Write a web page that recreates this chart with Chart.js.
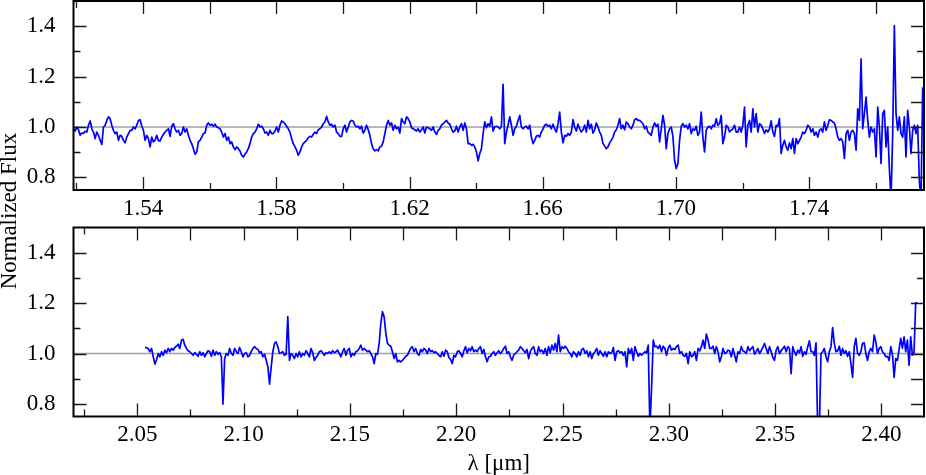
<!DOCTYPE html>
<html>
<head>
<meta charset="utf-8">
<script src="https://cdn.jsdelivr.net/npm/chart.js@4.4.1/dist/chart.umd.min.js"></script>
<style>
html,body{margin:0;padding:0;background:#fff;}
#wrap{position:relative;width:926px;height:475px;overflow:hidden;background:#fff;}
#wrap canvas{position:absolute;left:0;top:0;}
</style>
</head>
<body>
<div id="wrap">
<canvas id="cBottom" width="926" height="475"></canvas>
<canvas id="cTop" width="926" height="475"></canvas>
</div>
<script>
// ---------------- data ----------------
const topRange = [1.5191, 1.7745];
const bottomRange = [2.020, 2.420];
const yRange = [0.75, 1.5];
const continuumLevel = [1.0, 1.0];

const topTickLabels = [1.54, 1.58, 1.62, 1.66, 1.70, 1.74];
const topMinorTicks = [1.52, 1.56, 1.60, 1.64, 1.68, 1.72, 1.76];
const topMirrorTicks = [1.52, 1.54, 1.56, 1.58, 1.60, 1.62, 1.64, 1.66, 1.68, 1.70, 1.72, 1.74, 1.76];
const bottomTickLabels = [2.05, 2.10, 2.15, 2.20, 2.25, 2.30, 2.35, 2.40];
const bottomMinorTicks = [2.025, 2.075, 2.125, 2.175, 2.225, 2.275, 2.325, 2.375];
const bottomMirrorTicks = [2.025, 2.05, 2.075, 2.10, 2.125, 2.15, 2.175, 2.20, 2.225, 2.25, 2.275, 2.30, 2.325, 2.35, 2.375, 2.40];
const yTickLabels = [0.8, 1.0, 1.2, 1.4];
const yMinorTicks = [0.9, 1.1, 1.3];
const yMirrorTicks = [0.8, 0.9, 1.0, 1.1, 1.2, 1.3, 1.4];

const topWave = [
1.5191,1.5196,1.5201,1.5206,1.5211,1.5216,1.5221,1.5226,1.5231,1.5236,1.5241,1.5246,1.5251,1.5256,1.5261,1.5266,1.5271,1.5276,1.5281,1.5286,
1.5291,1.5296,1.5301,1.5306,1.5311,1.5316,1.5321,1.5326,1.5331,1.5336,1.5341,1.5346,1.5351,1.5356,1.5361,1.5366,1.5371,1.5376,1.5381,1.5386,
1.5391,1.5396,1.5401,1.5406,1.5411,1.5416,1.5421,1.5426,1.5431,1.5436,1.5441,1.5446,1.5451,1.5456,1.5461,1.5466,1.5471,1.5476,1.5481,1.5486,
1.5491,1.5496,1.5501,1.5506,1.5511,1.5516,1.5521,1.5526,1.5531,1.5536,1.5541,1.5546,1.5551,1.5556,1.5561,1.5566,1.5571,1.5576,1.5581,1.5586,
1.5591,1.5596,1.5601,1.5606,1.5611,1.5616,1.5621,1.5626,1.5631,1.5636,1.5641,1.5646,1.5651,1.5656,1.5661,1.5666,1.5671,1.5676,1.5681,1.5686,
1.5691,1.5696,1.5701,1.5706,1.5711,1.5716,1.5721,1.5726,1.5731,1.5736,1.5741,1.5746,1.5751,1.5756,1.5761,1.5766,1.5771,1.5776,1.5781,1.5786,
1.5791,1.5796,1.5801,1.5806,1.5811,1.5816,1.5821,1.5826,1.5831,1.5836,1.5841,1.5846,1.5851,1.5856,1.5861,1.5866,1.5871,1.5876,1.5881,1.5886,
1.5891,1.5896,1.5901,1.5906,1.5911,1.5916,1.5921,1.5926,1.5931,1.5936,1.5941,1.5946,1.5951,1.5956,1.5961,1.5966,1.5971,1.5976,1.5981,1.5986,
1.5991,1.5996,1.6001,1.6006,1.6011,1.6016,1.6021,1.6026,1.6031,1.6036,1.6041,1.6046,1.6051,1.6056,1.6061,1.6066,1.6071,1.6076,1.6081,1.6086,
1.6091,1.6096,1.6101,1.6106,1.6111,1.6116,1.6121,1.6126,1.6131,1.6136,1.6141,1.6146,1.6151,1.6156,1.6161,1.6166,1.6171,1.6176,1.6181,1.6186,
1.6191,1.6196,1.6201,1.6206,1.6211,1.6216,1.6221,1.6226,1.6231,1.6236,1.6241,1.6246,1.6251,1.6256,1.6261,1.6266,1.6271,1.6276,1.6281,1.6286,
1.6291,1.6296,1.6301,1.6306,1.6311,1.6316,1.6321,1.6326,1.6331,1.6336,1.6341,1.6346,1.6351,1.6356,1.6361,1.6366,1.6371,1.6376,1.6381,1.6386,
1.6391,1.6396,1.6401,1.6406,1.6411,1.6416,1.6421,1.6426,1.6431,1.6436,1.6441,1.6446,1.6451,1.6456,1.6461,1.6466,1.6471,1.6476,1.6481,1.6486,
1.6491,1.6496,1.6501,1.6506,1.6511,1.6516,1.6521,1.6526,1.6531,1.6536,1.6541,1.6546,1.6551,1.6556,1.6561,1.6566,1.6571,1.6576,1.6581,1.6586,
1.6591,1.6596,1.6601,1.6606,1.6611,1.6616,1.6621,1.6626,1.6631,1.6636,1.6641,1.6646,1.6651,1.6656,1.6661,1.6666,1.6671,1.6676,1.6681,1.6686,
1.6691,1.6696,1.6701,1.6706,1.6711,1.6716,1.6721,1.6726,1.6731,1.6736,1.6741,1.6746,1.6751,1.6756,1.6761,1.6766,1.6771,1.6776,1.6781,1.6786,
1.6791,1.6796,1.6801,1.6806,1.6811,1.6816,1.6821,1.6826,1.6831,1.6836,1.6841,1.6846,1.6851,1.6856,1.6861,1.6866,1.6871,1.6876,1.6881,1.6886,
1.6891,1.6896,1.6901,1.6906,1.6911,1.6916,1.6921,1.6926,1.6931,1.6936,1.6941,1.6946,1.6951,1.6956,1.6961,1.6966,1.6971,1.6976,1.6981,1.6986,
1.6991,1.6996,1.7001,1.7006,1.7011,1.7016,1.7021,1.7026,1.7031,1.7036,1.7041,1.7046,1.7051,1.7056,1.7061,1.7066,1.7071,1.7076,1.7081,1.7086,
1.7091,1.7096,1.7101,1.7106,1.7111,1.7116,1.7121,1.7126,1.7131,1.7136,1.7141,1.7146,1.7151,1.7156,1.7161,1.7166,1.7171,1.7176,1.7181,1.7186,
1.7191,1.7196,1.7201,1.7206,1.7211,1.7216,1.7221,1.7226,1.7231,1.7236,1.7241,1.7246,1.7251,1.7256,1.7261,1.7266,1.7271,1.7276,1.7281,1.7286,
1.7291,1.7296,1.7301,1.7306,1.7311,1.7316,1.7321,1.7326,1.7331,1.7336,1.7341,1.7346,1.7351,1.7356,1.7361,1.7366,1.7371,1.7376,1.7381,1.7386,
1.7391,1.7396,1.7401,1.7406,1.7411,1.7416,1.7421,1.7426,1.7431,1.7436,1.7441,1.7446,1.7451,1.7456,1.7461,1.7466,1.7471,1.7476,1.7481,1.7486,
1.7491,1.7496,1.7501,1.7506,1.7511,1.7516,1.7521,1.7526,1.7531,1.7536,1.7541,1.7546,1.7551,1.7556,1.7561,1.7566,1.7571,1.7576,1.7581,1.7586,
1.7591,1.7596,1.7601,1.7606,1.7611,1.7616,1.7621,1.7626,1.7631,1.7636,1.7641,1.7646,1.7651,1.7656,1.7661,1.7666,1.7671,1.7676,1.7681,1.7686,
1.7691,1.7696,1.7701,1.7706,1.7711,1.7716,1.7721,1.7726,1.7731,1.7736,1.7741
];

const topFlux = [
0.993,0.984,1.000,0.989,0.967,0.976,0.974,0.983,0.980,1.007,
1.024,0.993,0.980,0.954,0.980,0.967,0.947,0.931,1.000,1.007,
1.026,1.040,1.033,1.007,0.987,0.974,0.980,0.947,0.967,0.963,
0.947,0.937,0.960,0.974,0.987,0.987,1.000,0.993,1.007,1.026,
1.029,1.003,0.987,0.947,0.967,0.954,0.921,0.960,0.941,0.947,
0.967,0.945,0.945,0.960,0.971,0.980,0.987,0.993,0.963,1.003,
1.013,0.993,0.980,0.987,0.967,0.974,1.000,0.980,0.993,0.967,
0.947,0.934,0.914,0.892,0.901,0.941,0.947,0.960,0.974,0.976,
1.007,1.016,1.007,1.011,1.003,1.011,1.000,0.997,0.993,0.980,
0.960,0.974,0.947,0.960,0.934,0.941,0.921,0.910,0.921,0.914,
0.905,0.888,0.881,0.892,0.901,0.914,0.934,0.960,0.974,0.980,
0.993,1.011,1.000,1.003,0.993,0.976,0.980,0.967,0.987,0.974,
0.974,0.984,1.000,0.980,1.007,1.024,1.020,1.013,1.003,0.993,
0.980,0.954,0.934,0.921,0.908,0.888,0.901,0.921,0.934,0.941,
0.947,0.958,0.963,0.960,0.971,0.980,0.974,0.989,0.993,1.000,
1.013,1.020,1.042,1.020,1.007,1.011,1.000,1.007,0.980,0.974,
0.963,0.963,0.993,1.007,0.980,1.000,1.020,1.026,1.024,1.007,
1.000,1.003,0.993,1.003,0.976,0.987,1.007,0.989,0.967,0.934,
0.914,0.905,0.910,0.905,0.921,0.924,0.941,0.974,1.007,1.026,
1.007,1.016,0.987,1.007,0.993,1.000,0.976,1.033,1.020,1.013,
1.040,1.033,1.020,0.997,0.993,0.989,0.984,0.993,0.980,0.989,
1.000,0.976,1.000,0.997,0.993,0.987,1.000,0.980,0.971,0.987,
0.993,1.007,1.013,1.020,1.026,1.016,1.011,0.993,0.980,0.984,
1.003,0.980,1.000,1.013,0.987,1.016,0.993,0.934,0.934,0.928,
0.931,0.921,0.901,0.866,0.895,0.914,0.974,1.020,0.997,1.013,
1.003,1.040,0.984,1.000,1.003,1.000,0.993,1.003,1.169,0.934,
0.980,1.007,1.040,1.007,0.967,0.993,1.003,1.026,1.046,1.000,
0.993,1.000,1.003,0.993,1.007,0.960,0.934,0.947,0.963,0.967,
0.960,0.980,0.993,1.007,1.011,1.003,1.007,0.993,1.011,0.993,
0.980,1.013,1.059,0.980,0.937,0.967,0.963,0.974,0.967,0.980,
1.029,1.000,0.984,1.011,0.993,0.980,0.989,1.007,0.980,1.026,
0.993,1.011,0.976,0.989,1.016,1.000,0.980,0.967,0.934,0.924,
0.914,0.921,0.937,0.947,0.960,0.980,0.989,1.007,1.033,0.993,
1.007,0.989,1.020,1.013,1.000,0.993,1.007,1.029,1.033,1.026,
1.026,1.020,1.013,0.993,1.003,0.980,0.974,0.967,1.000,1.016,
1.003,1.011,0.941,0.993,1.046,1.007,0.914,0.974,0.993,1.000,
0.963,0.868,0.835,0.855,0.947,1.003,1.013,1.000,1.007,0.993,
1.013,0.974,0.993,0.987,1.003,0.967,0.980,1.059,0.960,0.901,
0.987,1.000,1.003,0.993,1.007,1.003,1.033,1.007,1.013,1.046,
0.934,0.960,1.007,1.000,0.980,0.987,0.993,1.007,0.980,0.980,
1.000,0.980,1.007,1.079,0.921,1.007,1.026,0.980,1.072,1.000,
1.053,0.980,1.013,1.007,0.993,0.974,0.989,0.980,0.993,1.024,
0.980,0.963,1.007,1.003,1.033,0.895,0.928,0.947,0.921,0.908,
0.937,0.914,0.954,0.895,0.954,0.934,0.947,0.960,0.980,0.974,
0.987,1.007,1.000,0.980,0.993,0.967,0.980,0.960,0.987,0.993,
0.980,1.020,0.987,1.007,1.029,1.026,1.020,1.016,0.993,0.960,
0.947,0.954,0.941,0.875,0.974,0.987,0.947,0.980,0.987,0.974,
0.908,1.072,1.026,1.270,0.993,1.053,1.119,1.026,0.960,1.000,
0.980,0.993,0.881,1.079,1.000,0.855,1.053,1.066,0.921,1.000,
0.835,0.710,0.974,1.402,1.053,0.987,1.040,0.974,0.960,1.040,
0.881,1.066,1.000,0.895,0.987,1.007,0.974,1.007,0.789,0.700,1.158
];

const bottomWave = [
2.05359,2.05438,2.05516,2.05594,2.05672,2.0575,2.05828,2.05906,
2.05984,2.06063,2.06141,2.06219,2.06297,2.06375,2.06453,2.06531,
2.06609,2.06688,2.06766,2.06844,2.06922,2.07,2.07078,2.07156,
2.07234,2.07313,2.07391,2.07469,2.07547,2.07625,2.07703,2.07781,
2.07859,2.07938,2.08016,2.08094,2.08172,2.0825,2.08328,2.08406,
2.08484,2.08563,2.08641,2.08719,2.08797,2.08875,2.08953,2.09031,
2.09109,2.09188,2.09266,2.09344,2.09422,2.095,2.09578,2.09656,
2.09734,2.09813,2.09891,2.09969,2.10047,2.10125,2.10203,2.10281,
2.10359,2.10438,2.10516,2.10594,2.10672,2.1075,2.10828,2.10906,
2.10984,2.11063,2.11141,2.11219,2.11297,2.11375,2.11453,2.11531,
2.11609,2.11688,2.11766,2.11844,2.11922,2.12,2.12078,2.12156,
2.12234,2.12313,2.12391,2.12469,2.12547,2.12625,2.12703,2.12781,
2.12859,2.12938,2.13016,2.13094,2.13172,2.1325,2.13328,2.13406,
2.13484,2.13563,2.13641,2.13719,2.13797,2.13875,2.13953,2.14031,
2.14109,2.14188,2.14266,2.14344,2.14422,2.145,2.14578,2.14656,
2.14734,2.14813,2.14891,2.14969,2.15047,2.15125,2.15203,2.15281,
2.15359,2.15438,2.15516,2.15594,2.15672,2.1575,2.15828,2.15906,
2.15984,2.16063,2.16141,2.16219,2.16297,2.16375,2.16453,2.16531,
2.16609,2.16688,2.16766,2.16844,2.16922,2.17,2.17078,2.17156,
2.17234,2.17313,2.17391,2.17469,2.17547,2.17625,2.17703,2.17781,
2.17859,2.17938,2.18016,2.18094,2.18172,2.1825,2.18328,2.18406,
2.18484,2.18563,2.18641,2.18719,2.18797,2.18875,2.18953,2.19031,
2.19109,2.19188,2.19266,2.19344,2.19422,2.195,2.19578,2.19656,
2.19734,2.19813,2.19891,2.19969,2.20047,2.20125,2.20203,2.20281,
2.20359,2.20438,2.20516,2.20594,2.20672,2.2075,2.20828,2.20906,
2.20984,2.21063,2.21141,2.21219,2.21297,2.21375,2.21453,2.21531,
2.21609,2.21688,2.21766,2.21844,2.21922,2.22,2.22078,2.22156,
2.22234,2.22313,2.22391,2.22469,2.22547,2.22625,2.22703,2.22781,
2.22859,2.22938,2.23016,2.23094,2.23172,2.2325,2.23328,2.23406,
2.23484,2.23563,2.23641,2.23719,2.23797,2.23875,2.23953,2.24031,
2.24109,2.24188,2.24266,2.24344,2.24422,2.245,2.24578,2.24656,
2.24734,2.24813,2.24891,2.24969,2.25047,2.25125,2.25203,2.25281,
2.25359,2.25438,2.25516,2.25594,2.25672,2.2575,2.25828,2.25906,
2.25984,2.26063,2.26141,2.26219,2.26297,2.26375,2.26453,2.26531,
2.26609,2.26688,2.26766,2.26844,2.26922,2.27,2.27078,2.27156,
2.27234,2.27313,2.27391,2.27469,2.27547,2.27625,2.27703,2.27781,
2.27859,2.27938,2.28016,2.28094,2.28172,2.2825,2.28328,2.28406,
2.28484,2.28563,2.28641,2.28719,2.28797,2.28875,2.28953,2.29031,
2.29109,2.29188,2.29266,2.29344,2.29422,2.295,2.29578,2.29656,
2.29734,2.29813,2.29891,2.29969,2.30047,2.30125,2.30203,2.30281,
2.30359,2.30438,2.30516,2.30594,2.30672,2.3075,2.30828,2.30906,
2.30984,2.31063,2.31141,2.31219,2.31297,2.31375,2.31453,2.31531,
2.31609,2.31688,2.31766,2.31844,2.31922,2.32,2.32078,2.32156,
2.32234,2.32313,2.32391,2.32469,2.32547,2.32625,2.32703,2.32781,
2.32859,2.32938,2.33016,2.33094,2.33172,2.3325,2.33328,2.33406,
2.33484,2.33563,2.33641,2.33719,2.33797,2.33875,2.33953,2.34031,
2.34109,2.34188,2.34266,2.34344,2.34422,2.345,2.34578,2.34656,
2.34734,2.34813,2.34891,2.34969,2.35047,2.35125,2.35203,2.35281,
2.35359,2.35438,2.35516,2.35594,2.35672,2.3575,2.35828,2.35906,
2.35984,2.36063,2.36141,2.36219,2.36297,2.36375,2.36453,2.36531,
2.36609,2.36688,2.36766,2.36844,2.36922,2.37,2.37078,2.37156,
2.37234,2.37313,2.37391,2.37469,2.37547,2.37625,2.37703,2.37781,
2.37859,2.37938,2.38016,2.38094,2.38172,2.3825,2.38328,2.38406,
2.38484,2.38563,2.38641,2.38719,2.38797,2.38875,2.38953,2.39031,
2.39109,2.39188,2.39266,2.39344,2.39422,2.395,2.39578,2.39656,
2.39734,2.39813,2.39891,2.39969,2.40047,2.40125,2.40203,2.40281,
2.40359,2.40438,2.40516,2.40594,2.40672,2.4075,2.40828,2.40906,
2.40984,2.41063,2.41141,2.41219,2.41297,2.41375,2.41453,2.41531,
2.41609,2.41688
];

const bottomFlux = [
1.023,1.023,1.019,1.007,1.020,0.987,0.958,0.976,1.000,0.987,
1.007,0.993,1.013,1.003,1.020,1.007,1.020,1.013,1.024,1.029,
1.037,1.020,1.053,1.056,1.033,1.020,1.011,1.007,1.000,0.993,
1.003,0.997,0.989,1.007,0.993,1.003,0.987,1.000,1.011,1.007,
0.989,1.013,0.993,1.007,0.997,1.003,0.987,0.799,0.980,1.000,
0.993,1.020,1.000,0.993,1.020,1.007,1.000,1.024,1.007,0.987,
1.000,1.003,0.987,0.993,1.007,1.020,1.027,1.020,1.016,1.003,
1.007,0.987,0.997,0.973,0.947,0.878,0.947,1.007,1.040,1.046,
1.027,1.000,1.003,1.007,0.993,0.997,1.146,0.973,1.000,0.993,
0.980,1.000,0.987,1.007,0.987,1.000,0.993,1.011,1.000,0.987,
1.020,1.003,0.973,0.984,0.993,1.007,1.011,1.003,0.993,1.003,
1.000,1.007,1.000,1.011,1.003,1.007,1.013,1.000,0.987,1.007,
1.020,0.993,1.013,1.020,0.987,1.000,0.993,1.007,1.011,1.020,
1.033,1.013,1.020,1.013,1.007,1.011,1.000,0.987,0.960,1.000,
0.997,1.040,1.119,1.166,1.146,1.080,1.040,1.033,1.029,1.007,
0.980,1.000,0.967,0.973,0.967,0.973,0.980,0.989,0.993,1.007,
1.020,1.027,1.007,1.020,1.000,0.993,1.016,1.007,1.020,1.013,
1.000,1.020,1.007,1.011,1.003,1.007,1.000,0.993,0.987,1.007,
0.989,1.013,1.007,0.984,0.976,0.960,0.993,0.987,1.007,1.011,
1.000,0.987,1.011,1.027,1.003,1.020,1.011,1.027,1.007,1.013,
1.007,1.020,1.027,1.000,1.016,0.987,0.967,0.987,0.989,1.000,
1.007,0.993,1.003,1.011,1.000,1.007,1.020,1.029,1.000,1.007,
0.987,0.973,0.993,1.000,1.007,1.013,1.027,1.020,1.011,1.003,
1.016,0.980,1.007,1.020,1.027,1.000,0.993,1.027,1.007,1.013,
1.000,1.020,0.993,1.027,1.003,1.033,1.013,1.040,1.007,1.073,
1.007,1.027,1.020,1.029,1.020,1.007,1.000,0.987,1.007,1.000,
0.987,1.007,0.993,1.016,1.020,1.000,1.011,0.987,1.007,0.980,
1.000,1.007,1.020,0.993,1.011,1.000,0.989,1.007,0.987,1.007,
1.000,1.003,1.024,0.973,1.007,1.011,1.003,1.007,0.993,1.007,
0.947,1.020,1.000,1.020,0.973,1.027,1.007,0.989,1.000,0.993,
1.000,1.007,1.003,1.033,0.700,0.867,1.053,1.027,1.029,1.020,
1.033,1.007,1.029,1.020,0.993,1.020,1.033,1.013,1.020,1.016,
1.027,1.033,1.000,1.007,0.993,0.989,1.000,0.960,1.007,0.987,
0.993,1.007,0.973,1.020,1.011,1.027,1.053,1.020,1.077,1.053,
1.020,1.020,1.029,1.000,1.027,1.007,0.967,0.987,1.020,1.000,
1.003,1.013,1.011,0.987,1.020,0.993,0.967,1.007,1.000,1.027,
1.011,1.007,1.000,1.027,1.011,1.020,1.027,0.997,1.007,1.020,
1.000,1.011,1.024,1.040,1.020,1.000,1.027,1.007,0.984,0.973,
1.013,1.027,1.000,1.011,1.020,1.029,1.007,1.027,1.020,0.920,
1.027,1.007,0.993,1.013,1.003,1.027,0.989,1.007,0.997,1.027,
1.050,1.007,1.007,0.993,1.042,0.700,0.700,1.000,1.007,1.020,
0.987,0.967,1.007,1.027,1.103,1.040,1.007,1.011,1.029,0.993,
1.020,1.000,1.011,0.989,1.007,0.960,0.905,1.027,1.060,1.000,
0.993,1.007,1.040,1.042,1.000,0.973,1.007,1.020,1.007,1.073,
1.046,1.000,1.020,1.027,1.007,1.000,0.987,0.989,0.973,1.027,
0.997,0.905,0.980,0.973,1.016,1.060,1.020,1.066,1.007,1.053,
0.954,1.066,0.993,1.003,1.201,1.201
];

// ---------------- helpers ----------------
const SERIF = '"Liberation Serif", "Times New Roman", Times, serif';
const LABEL_FONT = { family: SERIF, size: 23 };
const BLUE = '#0000ff';
const GREY = '#a0a0a0';

function pairs(xs, ys) {
  const n = Math.min(xs.length, ys.length);
  const out = [];
  for (let i = 0; i < n; i++) out.push({ x: xs[i], y: ys[i] });
  return out;
}

const MAJOR_LEN = 13, MINOR_LEN = 7;

function makeFramePlugin(cfg) {
  return {
    id: 'frameTicks' + cfg.name,
    afterDatasetsDraw(chart) {
      const { ctx, chartArea: a, scales } = chart;
      const xs = scales.x, ys = scales.y;
      ctx.save();
      ctx.strokeStyle = '#1a1a1a';
      ctx.lineWidth = 1.3;
      ctx.beginPath();
      cfg.xMajor.forEach(v => { const p = Math.round(xs.getPixelForValue(v)) + 0.5; ctx.moveTo(p, a.bottom); ctx.lineTo(p, a.bottom - MAJOR_LEN); });
      cfg.xMinor.forEach(v => { const p = Math.round(xs.getPixelForValue(v)) + 0.5; ctx.moveTo(p, a.bottom); ctx.lineTo(p, a.bottom - MINOR_LEN); });
      cfg.xMirror.forEach((v, i) => { const p = Math.round(xs.getPixelForValue(v)) + 0.5; ctx.moveTo(p, a.top); ctx.lineTo(p, a.top + (i === 0 ? MINOR_LEN : MAJOR_LEN)); });
      yTickLabels.forEach(v => { const p = Math.round(ys.getPixelForValue(v)) + 0.5; ctx.moveTo(a.left, p); ctx.lineTo(a.left + MAJOR_LEN, p); });
      yMinorTicks.forEach(v => { const p = Math.round(ys.getPixelForValue(v)) + 0.5; ctx.moveTo(a.left, p); ctx.lineTo(a.left + MINOR_LEN, p); });
      yMirrorTicks.forEach(v => { const p = Math.round(ys.getPixelForValue(v)) + 0.5; ctx.moveTo(a.right, p); ctx.lineTo(a.right - (Math.abs(v - 1.3) < 1e-6 ? MINOR_LEN : MAJOR_LEN), p); });
      ctx.stroke();
      ctx.strokeStyle = '#000';
      ctx.lineWidth = 2;
      ctx.strokeRect(a.left, a.top, a.right - a.left, a.bottom - a.top);
      if (cfg.yTitle) {
        ctx.fillStyle = '#000';
        ctx.font = '23px ' + SERIF;
        ctx.textAlign = 'center';
        ctx.textBaseline = 'alphabetic';
        ctx.translate(16, 211);
        ctx.rotate(-Math.PI / 2);
        ctx.fillText(cfg.yTitle, 0, 0);
      }
      ctx.restore();
    }
  };
}

function makeChart(canvasId, opts) {
  const ctx = document.getElementById(canvasId).getContext('2d');
  return new Chart(ctx, {
    type: 'line',
    data: {
      datasets: [
        { data: pairs(opts.range, continuumLevel), borderColor: GREY, borderWidth: 1.3, pointRadius: 0, tension: 0, order: 2 },
        { data: pairs(opts.wave, opts.flux), borderColor: BLUE, borderWidth: 1.7, pointRadius: 0, tension: 0, borderJoinStyle: 'round', order: 1 }
      ]
    },
    options: {
      responsive: false,
      animation: false,
      devicePixelRatio: 1,
      layout: { padding: opts.padding },
      plugins: { legend: { display: false }, tooltip: { enabled: false }, title: { display: false } },
      scales: {
        x: {
          type: 'linear',
          position: 'bottom',
          min: opts.range[0],
          max: opts.range[1],
          afterBuildTicks: s => { s.ticks = opts.xMajor.map(v => ({ value: v })); },
          afterFit: s => { s.height = opts.xHeight; s.paddingLeft = 0; s.paddingRight = 0; },
          grid: { display: false, drawTicks: false },
          border: { display: false },
          ticks: { font: LABEL_FONT, color: '#000', padding: 5, maxRotation: 0, autoSkip: false,
                    callback: v => Number(v).toFixed(2) },
          title: opts.xTitle ? { display: true, text: opts.xTitle, font: { family: SERIF, size: 23, lineHeight: 1 }, color: '#000', padding: { top: 0, bottom: 0 } } : { display: false }
        },
        y: {
          type: 'linear',
          position: 'left',
          min: yRange[0],
          max: yRange[1],
          afterBuildTicks: s => { s.ticks = yTickLabels.map(v => ({ value: v })); },
          afterFit: s => { s.width = 73.5; s.paddingTop = 0; s.paddingBottom = 0; },
          grid: { display: false, drawTicks: false },
          border: { display: false },
          ticks: { font: LABEL_FONT, color: '#000', padding: 18, callback: v => Number(v).toFixed(1) }
        }
      }
    },
    plugins: [makeFramePlugin({ name: canvasId, xMajor: opts.xMajor, xMinor: opts.xMinor, xMirror: opts.xMirror, yTitle: opts.yTitle })]
  });
}

makeChart('cBottom', {
  range: bottomRange, wave: bottomWave, flux: bottomFlux,
  xMajor: bottomTickLabels, xMinor: bottomMinorTicks, xMirror: bottomMirrorTicks,
  padding: { left: 0, right: 2, top: 227.5, bottom: 0 }, xHeight: 58.5,
  xTitle: 'λ [μm]', yTitle: 'Normalized Flux'
});

makeChart('cTop', {
  range: topRange, wave: topWave, flux: topFlux,
  xMajor: topTickLabels, xMinor: topMinorTicks, xMirror: topMirrorTicks,
  padding: { left: 0, right: 2, top: 1, bottom: 245 }, xHeight: 40
});
</script>
</body>
</html>
